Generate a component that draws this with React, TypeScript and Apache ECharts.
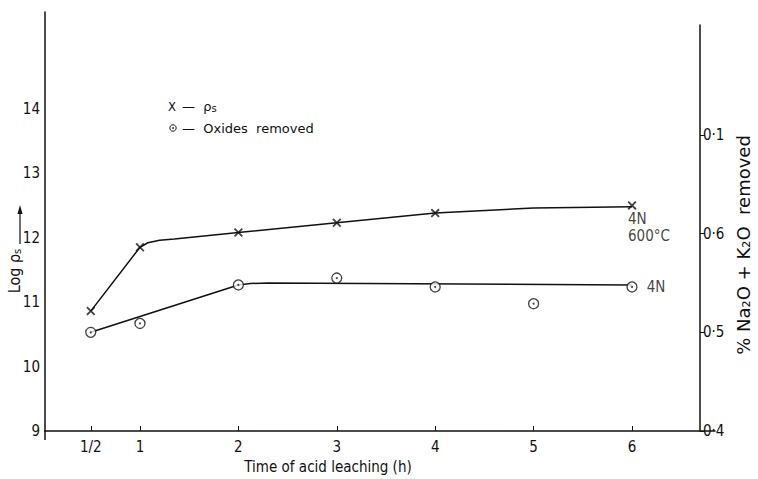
import React, { useEffect, useRef } from 'react';
import * as echarts from 'echarts';

// ---- data ----
const xTickValues = [0.5, 1, 2, 3, 4, 5, 6];
const xTickLabels = ['1/2', '1', '2', '3', '4', '5', '6'];
const rightTickValues = [0.4, 0.5, 0.6, 0.7];
const rightTickLabels = ['0·4', '0·5', '0·6', '0·1'];

const rhoHours = [0.5, 1, 2, 3, 4, 6];
const logRho = [10.86, 11.85, 12.08, 12.23, 12.38, 12.5];
const rhoCurveHours = [0.5, 1, 1.08, 1.2, 1.35, 2, 3, 4, 5, 6];
const rhoCurve = [10.86, 11.85, 11.92, 11.96, 11.98, 12.08, 12.23, 12.38, 12.46, 12.48];

const oxideHours = [0.5, 1, 2, 3, 4, 5, 6];
const oxideRemoved = [0.5, 0.509, 0.548, 0.555, 0.546, 0.529, 0.546];
const oxideCurveHours = [0.5, 2, 2.12, 2.3, 6];
const oxideCurve = [0.5, 0.548, 0.5495, 0.55, 0.548];

const FONT = 'DejaVu Sans Condensed';
const INK = '#111';
const CROSS = 'path://M0,1.4L1.4,0L10,8.6L8.6,10Z M8.6,0L10,1.4L1.4,10L0,8.6Z';

const pick = (vals: number[], labels: string[], v: number) => {
  let best = -1;
  let bd = 1e9;
  vals.forEach((t, i) => {
    const d = Math.abs(t - v);
    if (d < bd) { bd = d; best = i; }
  });
  return bd < 1e-6 && best >= 0 ? labels[best] : '';
};

export default function App() {
  const ref = useRef<HTMLDivElement>(null);
  useEffect(() => {
    if (!ref.current) return;
    const chart = echarts.init(ref.current, undefined, { renderer: 'svg' });
    const lastRho = rhoHours.length - 1;
    const lastOx = oxideHours.length - 1;
    chart.setOption({
      animation: false,
      backgroundColor: '#fff',
      grid: [
        { left: 45, top: 12, width: 670, height: 419 },
        { left: 45, top: 25, width: 655, height: 406 },
      ],
      xAxis: [
        {
          type: 'value', gridIndex: 0, min: 0.035, max: 6.843,
          axisLine: { show: true, onZero: false, lineStyle: { color: INK, width: 1.5 } },
          axisTick: { show: true, inside: true, length: 5, customValues: xTickValues, lineStyle: { color: INK, width: 1 } },
          axisLabel: {
            customValues: xTickValues,
            formatter: (v: number) => pick(xTickValues, xTickLabels, v),
            color: INK, fontSize: 15, fontFamily: FONT, margin: 8,
          },
          splitLine: { show: false },
        },
        {
          type: 'value', gridIndex: 1, min: 0.035, max: 6.691, show: false,
          splitLine: { show: false },
        },
      ],
      yAxis: [
        {
          type: 'value', gridIndex: 0, position: 'left', min: 9, max: 15.5, interval: 1,
          axisLine: { show: true, onZero: false, lineStyle: { color: INK, width: 1.5 } },
          axisTick: { show: false },
          axisLabel: {
            formatter: (v: number) => (v <= 14.001 ? String(Math.round(v)) : ''),
            color: INK, fontSize: 15, fontFamily: FONT, margin: 5,
          },
          splitLine: { show: false },
        },
        {
          type: 'value', gridIndex: 1, position: 'right', min: 0.4, max: 0.8115,
          axisLine: { show: true, onZero: false, lineStyle: { color: INK, width: 1.5 } },
          axisTick: { show: true, length: 5, customValues: rightTickValues, lineStyle: { color: INK, width: 1 } },
          axisLabel: {
            customValues: rightTickValues,
            formatter: (v: number) => pick(rightTickValues, rightTickLabels, v),
            color: INK, fontSize: 15, fontFamily: FONT, margin: 3,
          },
          splitLine: { show: false },
        },
      ],
      series: [
        {
          type: 'line', xAxisIndex: 0, yAxisIndex: 0,
          data: rhoCurveHours.map((h, i) => [h, rhoCurve[i]]),
          showSymbol: false, smooth: false,
          lineStyle: { color: INK, width: 1.5 }, silent: true, z: 2,
        },
        {
          type: 'line', xAxisIndex: 1, yAxisIndex: 1,
          data: oxideCurveHours.map((h, i) => [h, oxideCurve[i]]),
          showSymbol: false, smooth: false,
          lineStyle: { color: INK, width: 1.5 }, silent: true, z: 2,
        },
        {
          type: 'scatter', xAxisIndex: 0, yAxisIndex: 0, name: 'ρs',
          symbol: CROSS, symbolSize: 9,
          itemStyle: { color: INK },
          data: rhoHours.map((h, i) => {
            const item: any = { value: [h, logRho[i]] };
            if (i === lastRho) {
              item.label = {
                show: true, position: 'bottom', distance: 1, align: 'left', offset: [-4, 0],
                formatter: '4N\n600°C', color: INK, fontSize: 15, lineHeight: 17, fontFamily: FONT,
              };
            }
            return item;
          }),
          z: 5,
        },
        {
          type: 'scatter', xAxisIndex: 1, yAxisIndex: 1, name: 'Oxides removed',
          symbol: 'circle', symbolSize: 10,
          itemStyle: { color: '#fff', borderColor: INK, borderWidth: 1.3 },
          data: oxideHours.map((h, i) => {
            const item: any = { value: [h, oxideRemoved[i]] };
            if (i === lastOx) {
              item.label = {
                show: true, position: 'right', distance: 9,
                formatter: '4N', color: INK, fontSize: 15, fontFamily: FONT,
              };
            }
            return item;
          }),
          z: 5,
        },
        {
          type: 'scatter', xAxisIndex: 1, yAxisIndex: 1,
          symbol: 'circle', symbolSize: 2,
          itemStyle: { color: INK },
          data: oxideHours.map((h, i) => [h, oxideRemoved[i]]),
          silent: true, z: 6,
        },
      ],
      graphic: [
        { type: 'line', shape: { x1: 45, y1: 431, x2: 45, y2: 440 }, style: { stroke: INK, lineWidth: 1.5 } },
        // left axis title
        {
          type: 'text', x: 14, y: 271, rotation: Math.PI / 2,
          style: {
            text: 'Log ρ{s|s}', align: 'center', verticalAlign: 'middle',
            fill: INK, fontSize: 16, fontFamily: FONT,
            rich: { s: { fontSize: 11, fontFamily: FONT, fill: INK, verticalAlign: 'bottom', padding: [6, 0, 0, 0] } },
          },
        },
        { type: 'line', shape: { x1: 20, y1: 244, x2: 20, y2: 212 }, style: { stroke: INK, lineWidth: 1.2 } },
        { type: 'polygon', shape: { points: [[20, 205], [17.5, 214], [22.5, 214]] }, style: { fill: INK } },
        // right axis title
        {
          type: 'text', x: 743, y: 245, rotation: Math.PI / 2,
          style: {
            text: '% Na₂O + K₂O  removed', align: 'center', verticalAlign: 'middle',
            fill: INK, fontSize: 18, fontFamily: 'DejaVu Sans',
          },
        },
        // x axis title
        {
          type: 'text', x: 328, y: 467,
          style: {
            text: 'Time of acid leaching (h)', align: 'center', verticalAlign: 'middle',
            fill: INK, fontSize: 15, fontFamily: 'DejaVu Sans Condensed',
          },
        },
        // legend
        {
          type: 'text', x: 168, y: 106,
          style: { text: 'X', align: 'left', verticalAlign: 'middle', fill: INK, fontSize: 13, fontFamily: FONT },
        },
        {
          type: 'text', x: 182, y: 106,
          style: {
            text: '—  ρ{s|s}', align: 'left', verticalAlign: 'middle', fill: INK, fontSize: 13, fontFamily: 'DejaVu Sans',
            rich: { s: { fontSize: 10, fill: INK, fontFamily: 'DejaVu Sans', padding: [5, 0, 0, 0] } },
          },
        },
        { type: 'circle', shape: { cx: 173, cy: 128, r: 3.2 }, style: { fill: '#fff', stroke: INK, lineWidth: 1 } },
        { type: 'circle', shape: { cx: 173, cy: 128, r: 0.8 }, style: { fill: INK } },
        {
          type: 'text', x: 182, y: 128,
          style: { text: '—  Oxides  removed', align: 'left', verticalAlign: 'middle', fill: INK, fontSize: 13, fontFamily: 'DejaVu Sans' },
        },
      ],
    });
    return () => chart.dispose();
  }, []);
  return (
    <div
      ref={ref}
      style={{ position: 'fixed', left: 0, top: 0, width: 758, height: 479, background: '#fff' }}
    />
  );
}
